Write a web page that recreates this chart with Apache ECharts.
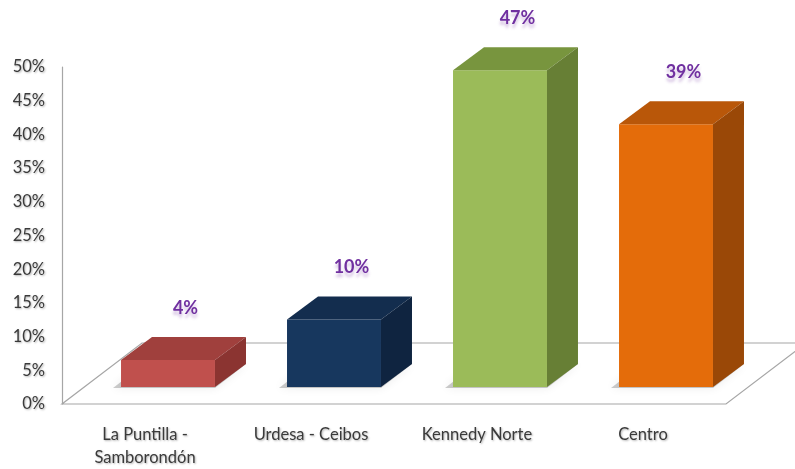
<!DOCTYPE html>
<html>
<head>
<meta charset="utf-8">
<script src="https://cdn.jsdelivr.net/npm/echarts@6/dist/echarts.min.js"></script>
<style>
html,body{margin:0;padding:0;background:#fff;}
#chart{width:795px;height:469px;}
</style>
</head>
<body>
<div id="chart"></div>
<script>
// ---- data ----
var categories = ['La Puntilla -\nSamborondón', 'Urdesa - Ceibos', 'Kennedy Norte', 'Centro'];
var values = [4, 10, 47, 39];
var valueLabels = ['4%', '10%', '47%', '39%'];

// ---- styles ----
var frontColors = ['#C0504D', '#17375E', '#9BBB59', '#E46C0A'];
var topColors   = ['#A0403D', '#132D4E', '#78953E', '#B95709'];
var sideColors  = ['#8B3431', '#0F2440', '#677F35', '#9A4807'];
var FONT = 'Lato, "Open Sans", sans-serif';

var chart = echarts.init(document.getElementById('chart'), null, {renderer: 'canvas'});

// depth geometry (pixels)
var BAR_OFF_X = 23, BAR_OFF_Y = -17;   // bar front plane offset from floor front
var BAR_DX = 31, BAR_DY = -23;         // bar depth
var FLOOR_DX = 80, FLOOR_DY = -61;     // floor depth
var LINE = '#A6A6A6';

function floorRender(params, api) {
  var cs = params.coordSys;
  var x0 = cs.x, x1 = cs.x + cs.width;
  var y0 = api.coord([0, 0])[1];
  return {
    type: 'group',
    children: [{
      type: 'polygon',
      shape: {points: [[x0, y0], [x1, y0], [x1 + FLOOR_DX, y0 + FLOOR_DY], [x0 + FLOOR_DX, y0 + FLOOR_DY]]},
      style: {fill: '#FFFFFF', stroke: LINE, lineWidth: 1.2}
    }]
  };
}

function barRender(params, api) {
  var i = api.value(0);
  var v = api.value(1);
  var pTop = api.coord([i, v]);
  var pBot = api.coord([i, 0]);
  var band = api.size([1, 0])[0];
  var w = band * 0.566;
  var fx1 = pTop[0] - w / 2 + BAR_OFF_X;
  var fx2 = pTop[0] + w / 2 + BAR_OFF_X;
  var ft = pTop[1] + BAR_OFF_Y;
  var fb = pBot[1] + BAR_OFF_Y;
  var idx = params.dataIndex;
  return {
    type: 'group',
    children: [
      {
        type: 'polygon',
        shape: {points: [[fx1 - 8, fb + 1], [fx2, fb + 1], [fx2 + BAR_DX, fb + BAR_DY], [fx1 + BAR_DX - 8, fb + BAR_DY]]},
        style: {fill: 'rgba(0,0,0,0.2)', shadowBlur: 10, shadowColor: 'rgba(0,0,0,0.4)'}
      },
      {
        type: 'rect',
        shape: {x: fx1, y: ft, width: fx2 - fx1, height: fb - ft},
        style: {fill: frontColors[idx]}
      },
      {
        type: 'polygon',
        shape: {points: [[fx1, ft], [fx2, ft], [fx2 + BAR_DX, ft + BAR_DY], [fx1 + BAR_DX, ft + BAR_DY]]},
        style: {fill: topColors[idx]}
      },
      {
        type: 'polygon',
        shape: {points: [[fx2, ft], [fx2, fb], [fx2 + BAR_DX, fb + BAR_DY], [fx2 + BAR_DX, ft + BAR_DY]]},
        style: {fill: sideColors[idx]}
      },
      {
        type: 'text',
        x: (fx1 + fx2) / 2 + BAR_DX / 2 + 2,
        y: ft + BAR_DY - 29,
        style: {
          text: valueLabels[idx],
          fill: '#7030A0',
          font: 'bold 18px ' + FONT,
          align: 'center',
          verticalAlign: 'middle',
          textShadowColor: 'rgba(112,48,160,0.3)',
          textShadowBlur: 3,
          textShadowOffsetY: 4
        }
      }
    ]
  };
}

var barData = values.map(function (v, i) { return [i, v]; });

chart.setOption({
  animation: false,
  backgroundColor: '#FFFFFF',
  grid: {left: 62, right: 69, top: 67, bottom: 62, containLabel: false},
  xAxis: {
    type: 'category',
    data: categories,
    axisLine: {show: false},
    axisTick: {show: false},
    axisLabel: {
      margin: 19,
      fontFamily: FONT,
      fontSize: 16.5,
      lineHeight: 23,
      color: '#3A3A3A',
      textShadowColor: 'rgba(0,0,0,0.3)',
      textShadowBlur: 2,
      textShadowOffsetX: 1,
      textShadowOffsetY: 1
    }
  },
  yAxis: {
    type: 'value',
    min: 0,
    max: 50,
    interval: 5,
    splitLine: {show: false},
    axisTick: {show: false},
    axisLine: {show: true, lineStyle: {color: LINE, width: 1.2}},
    axisLabel: {
      formatter: '{value}%',
      margin: 17,
      fontFamily: FONT,
      fontSize: 16.5,
      color: '#3A3A3A',
      textShadowColor: 'rgba(0,0,0,0.3)',
      textShadowBlur: 2,
      textShadowOffsetX: 1,
      textShadowOffsetY: 1
    }
  },
  series: [
    {
      type: 'custom',
      renderItem: floorRender,
      data: [[0, 0]],
      z: 1,
      silent: true
    },
    {
      type: 'custom',
      renderItem: barRender,
      data: barData,
      encode: {x: 0, y: 1},
      z: 2
    }
  ]
});
</script>
</body>
</html>
